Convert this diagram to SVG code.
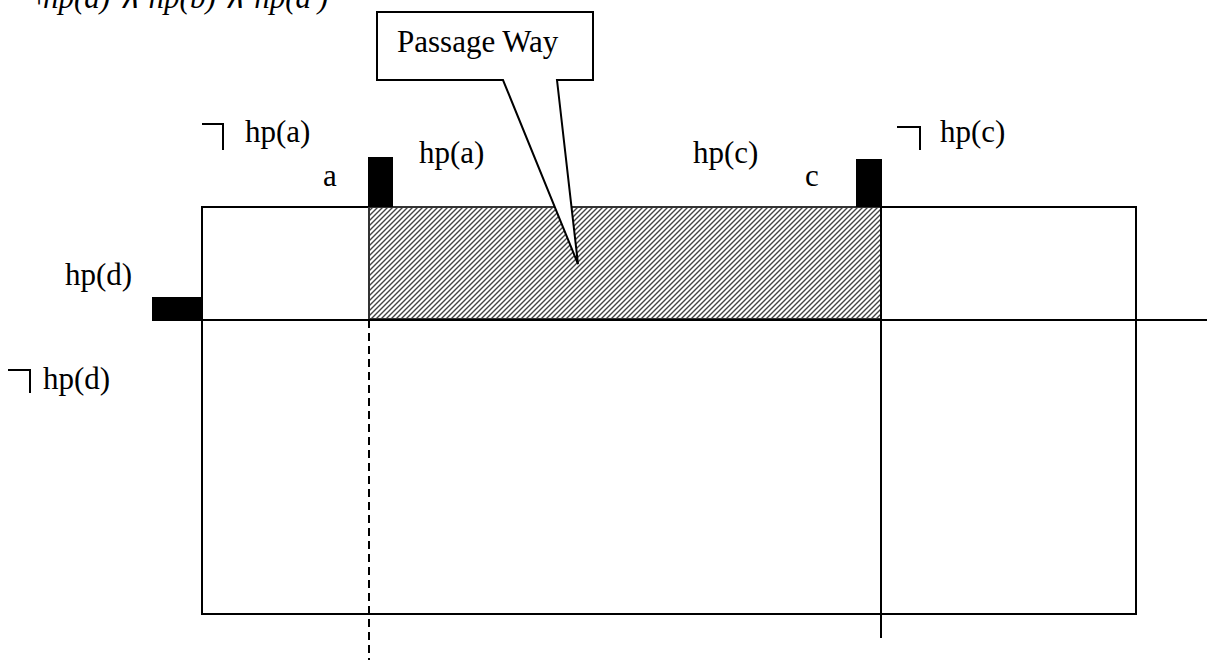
<svg xmlns="http://www.w3.org/2000/svg" width="1207" height="660" viewBox="0 0 1207 660">
<style>
.t{font-family:"Liberation Serif","Times New Roman",serif;font-size:31px;fill:#000}
.ti{font-family:"Liberation Serif","Times New Roman",serif;font-size:31px;font-style:italic;fill:#000}
.ln{stroke:#000;stroke-width:2;fill:none}
.blk{fill:#000}
</style>
<defs>
<pattern id="hatch" width="5" height="5" patternUnits="userSpaceOnUse">
<rect width="5" height="5" fill="#fff"/>
<path d="M-1,6 L6,-1 M-1,1 L1,-1 M4,6 L6,4" stroke="#444" stroke-width="1.4"/>
</pattern>
</defs>
<rect width="1207" height="660" fill="#fff"/>
<text class="ti" x="22" y="8">¬hp(a) ∧ hp(b) ∧ hp(a′)</text>
<g id="outer"><rect x="202" y="207" width="934" height="407" class="ln"/></g>
<g id="passage"><rect x="369" y="207" width="512" height="112" fill="url(#hatch)" stroke="#333" stroke-width="2"/></g>
<g id="connectors">
<line x1="152" y1="320" x2="1207" y2="320" class="ln"/>
<line x1="369" y1="320" x2="369" y2="660" class="ln" stroke-dasharray="8,5"/>
<line x1="881" y1="207" x2="881" y2="638" class="ln"/>
</g>
<g id="door-a"><rect x="368" y="157" width="25" height="50" class="blk"/></g>
<g id="door-c"><rect x="856" y="159" width="26" height="48" class="blk"/></g>
<g id="door-d"><rect x="152" y="297" width="49" height="23" class="blk"/></g>
<g id="callout">
<path d="M377,12 L593,12 L593,80 L557,80 L578,264 L503,80 L377,80 Z" fill="#fff" stroke="#000" stroke-width="2"/>
<text class="t" x="397" y="52">Passage Way</text>
</g>
<g id="labels">
<path d="M202,124 L223,124 L223,150" class="ln"/>
<text class="t" x="245" y="142">hp(a)</text>
<text class="t" x="323" y="186">a</text>
<text class="t" x="419" y="163">hp(a)</text>
<text class="t" x="693" y="163">hp(c)</text>
<text class="t" x="805" y="186">c</text>
<path d="M897,127 L920,127 L920,150" class="ln"/>
<text class="t" x="940" y="142">hp(c)</text>
<text class="t" x="65" y="285">hp(d)</text>
<path d="M8,370 L30,370 L30,393" class="ln"/>
<text class="t" x="43" y="389">hp(d)</text>
</g>
</svg>
